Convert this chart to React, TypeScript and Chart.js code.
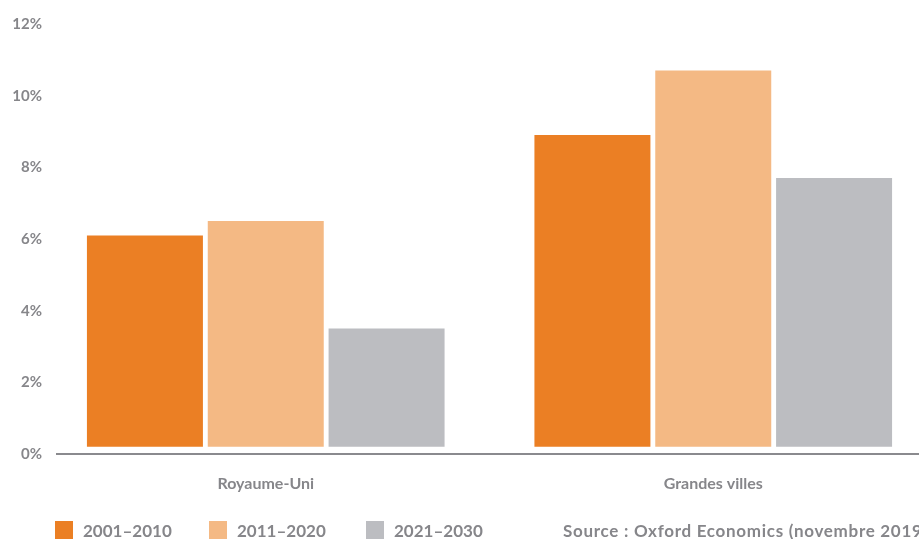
import React, { useEffect, useRef } from "react";
import { Chart, registerables } from "chart.js";

Chart.register(...registerables);

const categories = ["Royaume-Uni", "Grandes villes"];
const seriesLabels = ["2001–2010", "2011–2020", "2021–2030"];
const values2001_2010 = [6.1, 8.9];
const values2011_2020 = [6.5, 10.7];
const values2021_2030 = [3.5, 7.7];
const yTicks = [0, 2, 4, 6, 8, 10, 12];
const sourceText = "Source\u202F: Oxford Economics (novembre 2019)";

const COLORS = ["#EB7F24", "#F4B984", "#BCBDC1"];
const TEXT = "#86868A";
const FONT = "Lato, 'Open Sans', sans-serif";

const legendPlugin = {
  id: "customLegend",
  afterDraw(chart: any) {
    const ctx = chart.ctx;
    const xs = [55, 209, 366];
    const y = 521;
    ctx.save();
    ctx.font = `bold 17px ${FONT}`;
    ctx.textBaseline = "middle";
    ctx.textAlign = "left";
    chart.data.datasets.forEach((ds: any, i: number) => {
      ctx.fillStyle = ds.backgroundColor;
      ctx.fillRect(xs[i], y, 18, 18);
      ctx.fillStyle = TEXT;
      ctx.fillText(ds.label, xs[i] + 28, y + 11);
    });
    (ctx as any).letterSpacing = "0.7px";
    ctx.fillText(sourceText, 563, y + 11);
    (ctx as any).letterSpacing = "0px";
    // axis line
    const yScale = chart.scales.y;
    const y0 = Math.round(yScale.getPixelForValue(0));
    ctx.strokeStyle = "#8A8A8E";
    ctx.lineWidth = 2;
    ctx.beginPath();
    ctx.moveTo(56, y0);
    ctx.lineTo(chart.width, y0);
    ctx.stroke();
    ctx.restore();
  },
};

export default function App() {
  const ref = useRef<HTMLCanvasElement>(null);
  useEffect(() => {
    if (!ref.current) return;
    const series = [values2001_2010, values2011_2020, values2021_2030];
    const chart = new Chart(ref.current, {
      type: "bar",
      data: {
        labels: categories,
        datasets: series.map((vals, i) => ({
          label: seriesLabels[i],
          data: vals,
          backgroundColor: COLORS[i],
          borderWidth: 0,
          base: 0.2,
          categoryPercentage: 0.81,
          barPercentage: 0.96,
        })),
      },
      options: {
        animation: false,
        responsive: false,
        devicePixelRatio: 1,
        layout: { padding: { top: 24, bottom: 0, left: 0, right: 23 } },
        plugins: {
          legend: { display: false },
          tooltip: { enabled: false },
        },
        scales: {
          x: {
            grid: { display: false, drawTicks: false },
            border: { display: false },
            ticks: {
              color: TEXT,
              font: { family: FONT, size: 16, weight: "bold" },
              padding: 20,
            },
            afterFit(scale: any) {
              scale.height = 85;
            },
          },
          y: {
            min: 0,
            max: 12,
            grid: { display: false, drawTicks: false },
            border: { display: false },
            afterBuildTicks(scale: any) {
              scale.ticks = yTicks.map((v) => ({ value: v }));
            },
            ticks: {
              color: TEXT,
              font: { family: FONT, size: 15, weight: "bold" },
              padding: 0,
              callback: (v: any) => `${v}%`,
            },
            afterFit(scale: any) {
              scale.width = 42;
            },
          },
        },
      },
      plugins: [legendPlugin],
    });
    return () => chart.destroy();
  }, []);
  return (
    <div
      style={{
        position: "fixed",
        left: 0,
        top: 0,
        width: 919,
        height: 539,
        overflow: "hidden",
        background: "#fff",
      }}
    >
      <canvas ref={ref} width={960} height={539} style={{ display: "block" }} />
    </div>
  );
}
